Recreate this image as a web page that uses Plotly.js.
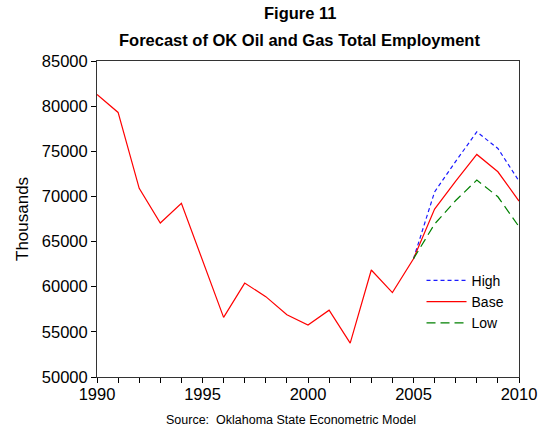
<!DOCTYPE html>
<html>
<head>
<meta charset="utf-8">
<script src="https://cdn.plot.ly/plotly-3.0.1.min.js"></script>
<style>html,body{margin:0;padding:0;background:#fff;}#chart{width:542px;height:431px;}</style>
</head>
<body>
<div id="chart"></div>
<script>
const years = [1990,1991,1992,1993,1994,1995,1996,1997,1998,1999,2000,2001,2002,2003,2004,2005,2006,2007,2008,2009,2010];
const baseValues = [81300,79300,70900,67050,69250,62900,56600,60400,58900,56900,55750,57400,53750,61850,59350,63100,68600,71700,74650,72730,69490];
const forecastYears = [2005,2006,2007,2008,2009,2010];
const highValues = [63100,70500,73880,77150,75310,71700];
const lowValues = [63100,66950,69550,71810,69960,66650];
const yTicks = [50000,55000,60000,65000,70000,75000,80000,85000];
const yTickText = yTicks.map(v => String(v));
const xTickText = years.map(y => (y % 5 === 0 ? String(y) : ''));

const traces = [
  {x: forecastYears, y: highValues, name: 'High', type: 'scatter', mode: 'lines',
   line: {color: '#1a1aff', width: 1.2, dash: '4px,3px'}},
  {x: years, y: baseValues, name: 'Base', type: 'scatter', mode: 'lines',
   line: {color: '#ff0000', width: 1.2}},
  {x: forecastYears, y: lowValues, name: 'Low', type: 'scatter', mode: 'lines',
   line: {color: '#008000', width: 1.2, dash: '9px,5px'}}
];

const layout = {
  width: 542, height: 431,
  margin: {l: 97, r: 23, t: 61, b: 54},
  paper_bgcolor: '#ffffff', plot_bgcolor: '#ffffff',
  font: {family: 'Liberation Sans, Arial, sans-serif', color: '#000'},
  xaxis: {range: [1990, 2010], tickvals: years, ticktext: xTickText, ticks: 'outside',
          ticklen: 5, tickcolor: '#000', showline: true, linecolor: '#333', linewidth: 1,
          mirror: true, showgrid: false, zeroline: false, tickfont: {size: 16.5},
          ticklabelstandoff: -3},
  yaxis: {range: [50000, 85000], tickvals: yTicks, ticktext: yTickText, ticks: 'outside', ticklen: 5,
          tickcolor: '#000', showline: true, linecolor: '#333', linewidth: 1, mirror: true,
          showgrid: false, zeroline: false, tickfont: {size: 16.5}},
  legend: {x: 0.769, y: 0.355, xanchor: 'left', yanchor: 'top', bgcolor: 'rgba(0,0,0,0)',
           font: {size: 14}, tracegroupgap: 0, itemwidth: 40},
  showlegend: true,
  annotations: [
    {text: '<b>Figure 11</b>', xref: 'paper', yref: 'paper', x: 0.481, y: 1, yshift: 48,
     xanchor: 'center', yanchor: 'middle', showarrow: false, font: {size: 16.5}},
    {text: '<b>Forecast of OK Oil and Gas Total Employment</b>', xref: 'paper', yref: 'paper',
     x: 0.481, y: 1, yshift: 21, xanchor: 'center', yanchor: 'middle', showarrow: false,
     font: {size: 16.5}},
    {text: 'Thousands', xref: 'paper', yref: 'paper', x: 0, y: 0.5, xshift: -75,
     xanchor: 'center', yanchor: 'middle', textangle: -90, showarrow: false, font: {size: 17}},
    {text: 'Source:  Oklahoma State Econometric Model', xref: 'paper', yref: 'paper',
     x: 0.46, y: 0, yshift: -43, xanchor: 'center', yanchor: 'middle', showarrow: false,
     font: {size: 12.5}}
  ]
};

Plotly.newPlot('chart', traces, layout, {displayModeBar: false, staticPlot: true});
</script>
</body>
</html>
